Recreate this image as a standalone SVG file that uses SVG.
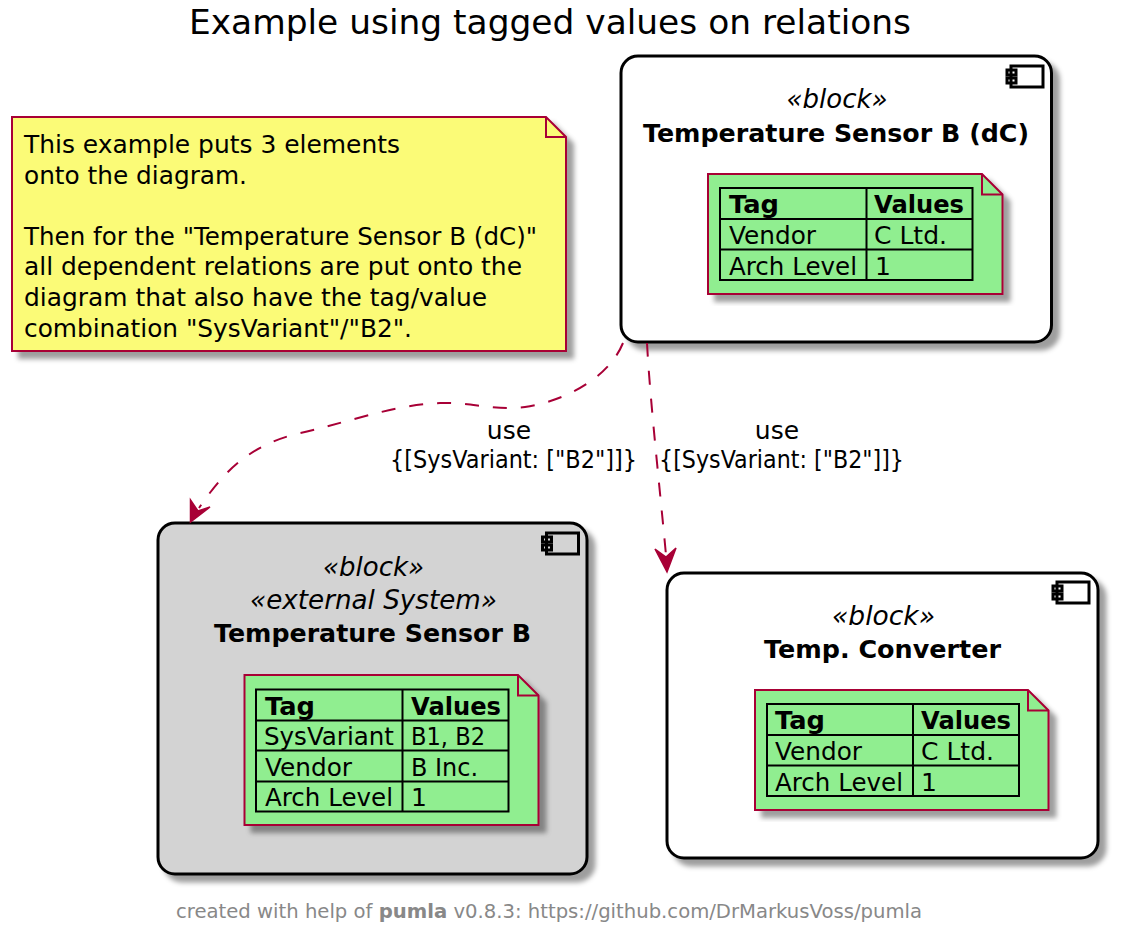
<svg xmlns="http://www.w3.org/2000/svg" width="1123" height="933" viewBox="0 0 1123 933">
<defs>
<filter id="sh" x="-10%" y="-10%" width="120%" height="120%"><feDropShadow dx="7" dy="7" stdDeviation="2.4" flood-color="#000" flood-opacity="0.38"/></filter>
<symbol id="icon" overflow="visible"><rect x="4" y="0" width="32" height="21" class="ic"/><rect x="0" y="4" width="9" height="5" class="ic"/><rect x="0" y="12" width="9" height="5" class="ic"/></symbol>
</defs>
<style>
text{font-family:"DejaVu Sans","Liberation Sans",sans-serif;font-size:25px;fill:#000}
.b{font-weight:bold}
.i{font-style:italic;font-size:26px}
.c{text-anchor:middle}
.comp{stroke:#000;stroke-width:3;filter:url(#sh)}
.ic{fill:none;stroke:#000;stroke-width:3}
.note{stroke:#A80036;stroke-width:2;filter:url(#sh)}
.fold{fill:none;stroke:#A80036;stroke-width:2}
.tb{fill:none;stroke:#000;stroke-width:2}
.e{fill:none;stroke:#A80036;stroke-width:2;stroke-dasharray:14 14}
.h{fill:#A80036;stroke:#A80036;stroke-width:1.5}
.ft{fill:#888;font-size:19px}
</style>
<text id="title" x="189" y="34" style="font-size:33px" textLength="722" lengthAdjust="spacingAndGlyphs">Example using tagged values on relations</text>

<g id="note-intro">
<path class="note" fill="#FBFB77" d="M12,117H546L566,137V351H12Z"/>
<path class="fold" d="M546,117V137H566"/>
<text x="24" y="152.500" textLength="376" lengthAdjust="spacingAndGlyphs">This example puts 3 elements</text>
<text x="24" y="183.500" textLength="223" lengthAdjust="spacingAndGlyphs">onto the diagram.</text>
<text x="24" y="244.500" textLength="513" lengthAdjust="spacingAndGlyphs">Then for the "Temperature Sensor B (dC)"</text>
<text x="24" y="275" textLength="498" lengthAdjust="spacingAndGlyphs">all dependent relations are put onto the</text>
<text x="24" y="305.500" textLength="463" lengthAdjust="spacingAndGlyphs">diagram that also have the tag/value</text>
<text x="24" y="336.500" textLength="388" lengthAdjust="spacingAndGlyphs">combination "SysVariant"/"B2".</text>
</g>

<g id="node-sensor-dc">
<rect class="comp" fill="#fff" x="621" y="56" width="430.500" height="286" rx="17" ry="17"/>
<use href="#icon" x="1007" y="66"/>
<text class="i c" x="837" y="108" textLength="101" lengthAdjust="spacingAndGlyphs">«block»</text>
<text class="b" x="643" y="142" textLength="386" lengthAdjust="spacingAndGlyphs">Temperature Sensor B (dC)</text>
<path class="note" fill="#90EE90" d="M708,174H982L1002.500,194.500V294H708Z"/>
<path class="fold" d="M982,174V194.500H1002.500"/>
<path class="tb" d="M720,188H972.500V280H720ZM720,219H972.500M720,249.500H972.500M866.500,188V280"/>
<text class="b" x="729" y="213" textLength="50" lengthAdjust="spacingAndGlyphs">Tag</text>
<text class="b" x="874" y="213" textLength="90" lengthAdjust="spacingAndGlyphs">Values</text>
<text x="729" y="244" textLength="87" lengthAdjust="spacingAndGlyphs">Vendor</text>
<text x="874" y="244" textLength="73" lengthAdjust="spacingAndGlyphs">C Ltd.</text>
<text x="729" y="275" textLength="128" lengthAdjust="spacingAndGlyphs">Arch Level</text>
<text x="875" y="275">1</text>
</g>

<g id="node-sensor">
<rect class="comp" fill="#D3D3D3" x="158" y="523" width="429" height="351" rx="17" ry="17"/>
<use href="#icon" x="542.500" y="533"/>
<text class="i c" x="373.500" y="576" textLength="101" lengthAdjust="spacingAndGlyphs">«block»</text>
<text class="i" x="250" y="609" textLength="247" lengthAdjust="spacingAndGlyphs">«external System»</text>
<text class="b" x="214" y="642" textLength="317" lengthAdjust="spacingAndGlyphs">Temperature Sensor B</text>
<path class="note" fill="#90EE90" d="M244.500,675H518L538.500,695.500V825H244.500Z"/>
<path class="fold" d="M518,675V695.500H538.500"/>
<path class="tb" d="M256,689.500H508.500V811.500H256ZM256,720.500H508.500M256,750.500H508.500M256,781.500H508.500M402.500,689.500V811.500"/>
<text class="b" x="265" y="714.500" textLength="50" lengthAdjust="spacingAndGlyphs">Tag</text>
<text class="b" x="411" y="714.500" textLength="90" lengthAdjust="spacingAndGlyphs">Values</text>
<text x="264" y="745" textLength="130" lengthAdjust="spacingAndGlyphs">SysVariant</text>
<text x="411" y="745" textLength="74" lengthAdjust="spacingAndGlyphs">B1, B2</text>
<text x="265" y="776" textLength="87" lengthAdjust="spacingAndGlyphs">Vendor</text>
<text x="411" y="776" textLength="67" lengthAdjust="spacingAndGlyphs">B Inc.</text>
<text x="265" y="806" textLength="128" lengthAdjust="spacingAndGlyphs">Arch Level</text>
<text x="411" y="806">1</text>
</g>

<g id="node-converter">
<rect class="comp" fill="#fff" x="667" y="573" width="431" height="285" rx="17" ry="17"/>
<use href="#icon" x="1053" y="582"/>
<text class="i c" x="883.500" y="625" textLength="103" lengthAdjust="spacingAndGlyphs">«block»</text>
<text class="b" x="764" y="658" textLength="237" lengthAdjust="spacingAndGlyphs">Temp. Converter</text>
<path class="note" fill="#90EE90" d="M755,690H1028L1048.500,710.500V810H755Z"/>
<path class="fold" d="M1028,690V710.500H1048.500"/>
<path class="tb" d="M767,704H1019V796H767ZM767,735H1019M767,765.500H1019M913,704V796"/>
<text class="b" x="775" y="729" textLength="50" lengthAdjust="spacingAndGlyphs">Tag</text>
<text class="b" x="921" y="729" textLength="90" lengthAdjust="spacingAndGlyphs">Values</text>
<text x="775" y="760" textLength="87" lengthAdjust="spacingAndGlyphs">Vendor</text>
<text x="921" y="760" textLength="73" lengthAdjust="spacingAndGlyphs">C Ltd.</text>
<text x="775" y="791" textLength="128" lengthAdjust="spacingAndGlyphs">Arch Level</text>
<text x="921" y="791">1</text>
</g>

<g id="connectors">
<path class="e" d="M623,343C610,375 570,400 525,407C495,411 470,402 440,403C390,405 340,425 300,433C250,445 225,470 199,508"/>
<polygon class="h" points="190.500,522 190.500,500 198,511 210,507"/>
<path class="e" d="M647,343C650,400 660,490 666,555"/>
<polygon class="h" points="667,572 655,549 666,557 676,548"/>
<text class="c" x="509" y="439">use</text>
<text x="390" y="468" textLength="247" lengthAdjust="spacingAndGlyphs">{[SysVariant: ["B2"]]}</text>
<text class="c" x="777" y="439">use</text>
<text x="659" y="468" textLength="245" lengthAdjust="spacingAndGlyphs">{[SysVariant: ["B2"]]}</text>
</g>
<text id="footer" class="ft" x="176" y="918" textLength="746" lengthAdjust="spacingAndGlyphs">created with help of <tspan class="ft b">pumla</tspan> v0.8.3: https://github.com/DrMarkusVoss/pumla</text>
</svg>
